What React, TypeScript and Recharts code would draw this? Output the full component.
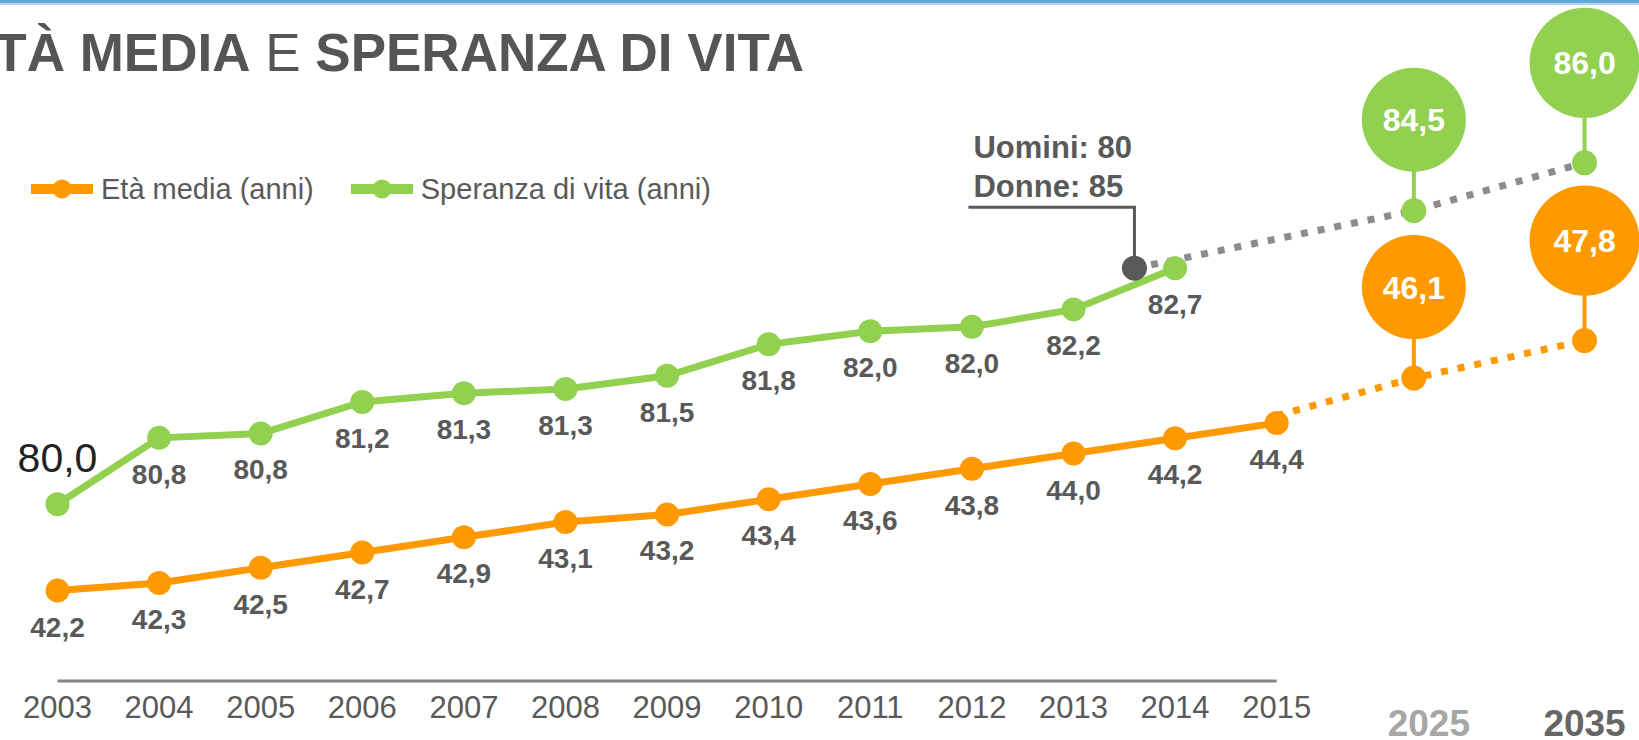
import React from 'react';
import { ComposedChart, Line, XAxis, YAxis, Legend, LabelList, ReferenceLine } from 'recharts';

// dati
const years = [2003, 2004, 2005, 2006, 2007, 2008, 2009, 2010, 2011, 2012, 2013, 2014, 2015];
const etaMedia = [42.2, 42.3, 42.5, 42.7, 42.9, 43.1, 43.2, 43.4, 43.6, 43.8, 44.0, 44.2, 44.4];
// the labels show them rounded to one decimal
const speranzaVita = [80.0, 80.76, 80.81, 81.17, 81.27, 81.32, 81.47, 81.83, 81.98, 82.03, 82.23, 82.7];
const projYears = [2025, 2035];
const projEta = [46.1, 47.8];
const projSperanza = [84.5, 86.0];
const genderNote = ['Uomini: 80', 'Donne: 85'];
const seriesNames = ['Età media (anni)', 'Speranza di vita (anni)'];

// layout
const W = 1639;
const H = 740;
const ORANGE = '#ff9900';
const GREEN = '#92d050';
const GREY_DOTS = '#8a8c8e';
const DARK = '#58595b';
const TEXT = '#595959';
const FONT = '"Liberation Sans", Arial, sans-serif';

// the projected years sit on a compressed stretch of the x axis
const projPos: Record<number, number> = { 2025: 2016.35, 2035: 2018.03 };
const notePos = 2013.6;

const X_DOMAIN = [2003, 2018.566];
const ETA_DOMAIN = [41.013, 49.956];
const VITA_DOMAIN = [77.978, 85.77];
const ETA_PROJ_DOMAIN = [32.37, 63.24];
const VITA_PROJ_DOMAIN = [69.77, 91.1];

const mainRows = years.map((year, i) => ({
  pos: year,
  eta: etaMedia[i],
  vita: speranzaVita[i] ?? null,
}));

const etaProjRows = [
  { pos: years[years.length - 1], v: etaMedia[etaMedia.length - 1] },
  ...projYears.map((y, i) => ({ pos: projPos[y], v: projEta[i] })),
];

const vitaProjRows = [
  { pos: notePos, v: speranzaVita[speranzaVita.length - 1] },
  ...projYears.map((y, i) => ({ pos: projPos[y], v: projSperanza[i] })),
];

const tickPositions = [...years, ...projYears.map((y) => projPos[y])];

const fmt = (v: number) => v.toFixed(1).replace('.', ',');

const pt = (p: any) => ({
  x: p.viewBox?.x ?? p.x,
  y: p.viewBox?.y ?? p.y,
});

const YearTick = (props: any) => {
  const { x, y, payload } = props;
  const i = tickPositions.indexOf(payload.value);
  if (i < 0) return null;
  if (i < years.length) {
    return (
      <text x={x} y={y + 37} textAnchor="middle" fontFamily={FONT} fontSize={31} fill={TEXT}>
        {years[i]}
      </text>
    );
  }
  const k = i - years.length;
  return (
    <text
      x={x + (k === 0 ? 15 : 0)}
      y={y + 55}
      textAnchor="middle"
      fontFamily={FONT}
      fontSize={37}
      fontWeight="bold"
      fill={k === 0 ? '#a6a6a6' : '#666666'}
    >
      {projYears[k]}
    </text>
  );
};

const belowLabel = (p: any) => {
  if (p.value == null) return null;
  const { x, y } = pt(p);
  return (
    <text x={x} y={y + 46} textAnchor="middle" fontFamily={FONT} fontSize={28} fontWeight="bold" fill={TEXT}>
      {fmt(p.value)}
    </text>
  );
};

const vitaLabel = (p: any) => {
  if (p.value == null) return null;
  if (p.index === 0) {
    const { x, y } = pt(p);
    return (
      <text x={x} y={y - 32} textAnchor="middle" fontFamily={FONT} fontSize={41} fill="#222">
        {fmt(p.value)}
      </text>
    );
  }
  return belowLabel(p);
};

const bubbleLabel = (color: string) => (p: any) => {
  const { x, y } = pt(p);
  if (p.index === 0) {
    if (color !== GREEN) return null;
    // note on the start of the life-expectancy projection
    return (
      <g>
        <polyline
          points={`${x},${y - 12} ${x},${y - 61} ${x - 166},${y - 61}`}
          fill="none"
          stroke={DARK}
          strokeWidth={3}
        />
        {genderNote.map((t, i) => (
          <text key={t} x={x - 161} y={y - 110 + i * 39} fontFamily={FONT} fontSize={31} fontWeight="bold" fill={TEXT}>
            {t}
          </text>
        ))}
      </g>
    );
  }
  const r = p.index === 1 ? 52 : 55;
  const cy = y - (p.index === 1 ? 91 : 100);
  return (
    <g>
      <line x1={x} x2={x} y1={y - 10} y2={cy + r - 1} stroke={color} strokeWidth={4} />
      <circle cx={x} cy={cy} r={r} fill={color} />
      <text x={x} y={cy + 11.5} textAnchor="middle" fontFamily={FONT} fontSize={32} fontWeight="bold" fill="#fff">
        {fmt(p.value)}
      </text>
    </g>
  );
};

const projDot = (first: string | null, fill: string) => (p: any) => {
  const { cx, cy, index } = p;
  if (index === 0 && !first) return <g key={`d${index}`} />;
  return <circle key={`d${index}`} cx={cx} cy={cy} r={12.5} fill={index === 0 ? first! : fill} />;
};

const LegendContent = (props: any) => {
  const items = (props.payload || []).filter((e: any) => e.type !== 'none');
  return (
    <div style={{ display: 'flex', alignItems: 'center', fontFamily: FONT, fontSize: 29, color: TEXT, lineHeight: '36px' }}>
      {items.map((e: any) => (
        <div key={e.value} style={{ display: 'flex', alignItems: 'center', marginRight: 37 }}>
          <svg width={62} height={22}>
            <line x1={0} x2={62} y1={11} y2={11} stroke={e.color} strokeWidth={10} />
            <circle cx={31} cy={11} r={9.5} fill={e.color} />
          </svg>
          <span style={{ marginLeft: 8 }}>{e.value}</span>
        </div>
      ))}
    </div>
  );
};

export default function App() {
  return (
    <div style={{ position: 'relative', width: W, height: H, background: '#fff', overflow: 'hidden' }}>
      <style>{'body{margin:0}'}</style>
      <ComposedChart width={W} height={H} data={mainRows} margin={{ top: 0, right: 0, bottom: 0, left: 57.5 }}>
        <XAxis
          dataKey="pos"
          type="number"
          domain={X_DOMAIN}
          ticks={tickPositions}
          interval={0}
          height={59}
          axisLine={false}
          tickLine={false}
          tickSize={0}
          tickMargin={0}
          tick={<YearTick />}
        />
        <YAxis yAxisId="eta" type="number" domain={ETA_DOMAIN} hide />
        <YAxis yAxisId="vita" type="number" domain={VITA_DOMAIN} hide />
        <YAxis yAxisId="etaP" type="number" domain={ETA_PROJ_DOMAIN} hide />
        <YAxis yAxisId="vitaP" type="number" domain={VITA_PROJ_DOMAIN} hide />
        <ReferenceLine
          yAxisId="eta"
          ifOverflow="visible"
          segment={[
            { x: years[0], y: ETA_DOMAIN[0] },
            { x: years[years.length - 1], y: ETA_DOMAIN[0] },
          ]}
          stroke="#858585"
          strokeWidth={3}
        />
        <Legend
          layout="vertical"
          align="center"
          verticalAlign="middle"
          wrapperStyle={{ top: 171, left: 31, width: 800, height: 36 }}
          content={<LegendContent />}
        />
        <Line
          yAxisId="etaP"
          data={etaProjRows}
          dataKey="v"
          legendType="none"
          stroke={ORANGE}
          strokeWidth={7}
          strokeDasharray="7 10"
          dot={projDot(null, ORANGE)}
          activeDot={false}
          isAnimationActive={false}
        >
          <LabelList dataKey="v" content={bubbleLabel(ORANGE)} />
        </Line>
        <Line
          yAxisId="vitaP"
          data={vitaProjRows}
          dataKey="v"
          legendType="none"
          stroke={GREY_DOTS}
          strokeWidth={7}
          strokeDasharray="7 10"
          dot={projDot(DARK, GREEN)}
          activeDot={false}
          isAnimationActive={false}
        >
          <LabelList dataKey="v" content={bubbleLabel(GREEN)} />
        </Line>
        <Line
          yAxisId="eta"
          dataKey="eta"
          name={seriesNames[0]}
          stroke={ORANGE}
          strokeWidth={7}
          dot={{ r: 12, fill: ORANGE, stroke: ORANGE, strokeWidth: 0 }}
          activeDot={false}
          isAnimationActive={false}
        >
          <LabelList dataKey="eta" content={belowLabel} />
        </Line>
        <Line
          yAxisId="vita"
          dataKey="vita"
          name={seriesNames[1]}
          stroke={GREEN}
          strokeWidth={7}
          dot={{ r: 12, fill: GREEN, stroke: GREEN, strokeWidth: 0 }}
          activeDot={false}
          isAnimationActive={false}
        >
          <LabelList dataKey="vita" content={vitaLabel} />
        </Line>
      </ComposedChart>
      <svg width={W} height={90} style={{ position: 'absolute', left: 0, top: 0, pointerEvents: 'none' }}>
        <rect x={0} y={0} width={W} height={3} fill="#62a9d8" />
        <rect x={0} y={3} width={W} height={2} fill="#b3d8f0" />
        <text x={-41} y={71} fontFamily={FONT} fontSize={53} fontWeight="bold" fill="#555555">
          ETÀ MEDIA<tspan fontWeight="normal"> E </tspan>SPERANZA DI VITA
        </text>
      </svg>
    </div>
  );
}
